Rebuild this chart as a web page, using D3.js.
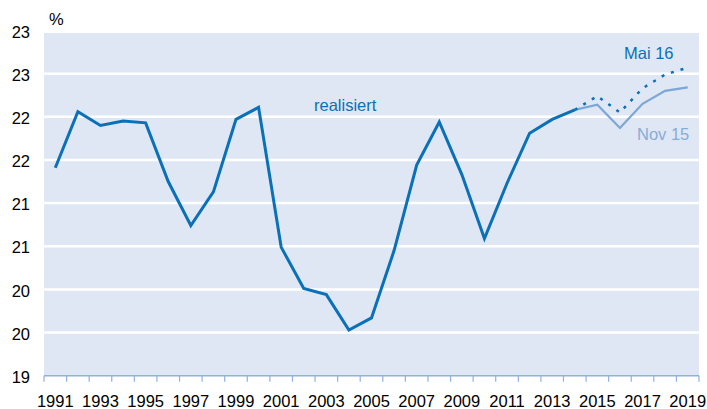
<!DOCTYPE html>
<html>
<head>
<meta charset="utf-8">
<script src="https://cdn.jsdelivr.net/npm/d3@7"></script>
<style>
  html, body { margin: 0; padding: 0; background: #fff; }
  svg { display: block; }
  text { font-family: "Liberation Sans", Arial, sans-serif; }
</style>
</head>
<body>
<svg id="chart" width="707" height="409"></svg>
<script>
// ---- data ----
const years = d3.range(1991, 2020);
const realisedYears = d3.range(1991, 2015);
const realised = [21.41, 22.06, 21.90, 21.95, 21.93, 21.25, 20.74, 21.13, 21.97, 22.11,
                  20.49, 20.01, 19.94, 19.53, 19.67, 20.45, 21.44, 21.94, 21.33, 20.59,
                  21.23, 21.81, 21.97, 22.08];
const forecastYears = [2014, 2015, 2016, 2017, 2018, 2019];
const nov15 = [22.08, 22.14, 21.87, 22.15, 22.30, 22.34];
const mai16 = [22.08, 22.24, 22.05, 22.33, 22.49, 22.57];
const yTickValues = [19, 19.5, 20, 20.5, 21, 21.5, 22, 22.5, 23];
const yTickLabels = ["19", "20", "20", "21", "21", "22", "22", "23", "23"];
const xTickLabels = d3.range(1991, 2020, 2).map(String);

// ---- layout ----
const svg = d3.select("#chart");
const left = 44, right = 699, bgTop = 33, bottom = 375.7, scaleTop = 30.5;
const fontSize = "16.5px";
const darkBlue = "#0a70b8", lightBlue = "#7ba7d6";

const x = d3.scaleBand().domain(years).range([left, right]).padding(0);
const cx = yr => x(yr) + x.bandwidth() / 2;
const y = d3.scaleLinear().domain([19, 23]).range([bottom, scaleTop]);

// background
svg.append("rect").attr("x", left).attr("y", bgTop)
  .attr("width", right - left).attr("height", bottom - bgTop)
  .attr("fill", "#dfe7f4");

// gridlines
svg.append("g").selectAll("line")
  .data(yTickValues.filter(v => v > 19 && y(v) > bgTop))
  .join("line")
  .attr("x1", left).attr("x2", right)
  .attr("y1", d => y(d)).attr("y2", d => y(d))
  .attr("stroke", "#fff").attr("stroke-width", 2.5);

// y axis labels
const yAxis = d3.axisLeft(y).tickValues(yTickValues)
  .tickFormat((d, i) => yTickLabels[i]).tickSize(0).tickPadding(0);
const gy = svg.append("g").attr("transform", "translate(30,0)").call(yAxis);
gy.select(".domain").remove();
gy.selectAll("text").attr("font-size", fontSize).attr("fill", "#000")
  .attr("font-family", "Liberation Sans, Arial, sans-serif")
  .attr("dy", "0.4em");

// x axis
const xAxis = d3.axisBottom(x).tickValues(d3.range(1991, 2020, 2))
  .tickFormat((d, i) => xTickLabels[i]).tickSize(0).tickPadding(0);
const gx = svg.append("g").attr("transform", `translate(0,${bottom})`).call(xAxis);
gx.select(".domain").remove();
gx.selectAll("text").attr("font-size", fontSize).attr("fill", "#000")
  .attr("font-family", "Liberation Sans, Arial, sans-serif")
  .attr("dy", null).attr("y", 31);

// axis line and boundary ticks
svg.append("line").attr("x1", left).attr("x2", right)
  .attr("y1", bottom).attr("y2", bottom)
  .attr("stroke", "#8fb0e0").attr("stroke-width", 1.5);
const boundaries = years.map(yr => x(yr)).concat([x(years[years.length - 1]) + x.bandwidth()]);
svg.append("g").selectAll("line").data(boundaries).join("line")
  .attr("x1", d => d).attr("x2", d => d)
  .attr("y1", bottom).attr("y2", bottom + 6)
  .attr("stroke", "#8fb0e0").attr("stroke-width", 1.2);

// lines
const line = d3.line().x(d => cx(d[0])).y(d => y(d[1]));
svg.append("path").datum(forecastYears.map((yr, i) => [yr, nov15[i]]))
  .attr("d", line).attr("fill", "none")
  .attr("stroke", lightBlue).attr("stroke-width", 2.2).attr("stroke-linejoin", "miter");
svg.append("path").datum(forecastYears.map((yr, i) => [yr, mai16[i]]))
  .attr("d", line).attr("fill", "none")
  .attr("stroke", darkBlue).attr("stroke-width", 2.5).attr("stroke-dasharray", "3,7");
svg.append("path").datum(realisedYears.map((yr, i) => [yr, realised[i]]))
  .attr("d", line).attr("fill", "none")
  .attr("stroke", darkBlue).attr("stroke-width", 3).attr("stroke-linejoin", "miter");

// annotations
svg.append("text").attr("x", 49).attr("y", 25).text("%")
  .attr("font-size", fontSize).attr("fill", "#000");
svg.append("text").attr("x", 314).attr("y", 110.5).text("realisiert")
  .attr("font-size", fontSize).attr("fill", darkBlue);
svg.append("text").attr("x", 624).attr("y", 59).text("Mai 16")
  .attr("font-size", fontSize).attr("fill", darkBlue);
svg.append("text").attr("x", 637).attr("y", 140).text("Nov 15")
  .attr("font-size", fontSize).attr("fill", "#86acd8");
</script>
</body>
</html>
